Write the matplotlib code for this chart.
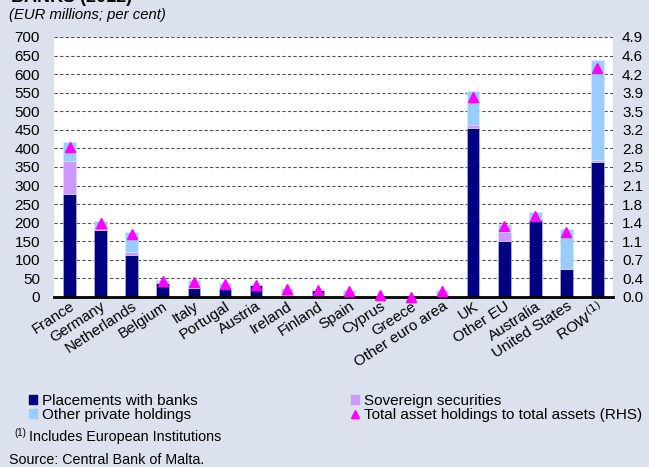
import numpy as np
import matplotlib.pyplot as plt
from matplotlib.lines import Line2D
from matplotlib.patches import Patch

plt.rcParams['font.family'] = ['Liberation Sans', 'DejaVu Sans']

# ---------------------------------
# DADOS (EUR milhões; por cento)
# ---------------------------------
categorias = ['France', 'Germany', 'Netherlands', 'Belgium', 'Italy', 'Portugal',
              'Austria', 'Ireland', 'Finland', 'Spain', 'Cyprus', 'Greece',
              'Other euro area', 'UK', 'Other EU', 'Australia', 'United States',
              'ROW$^{(1)}$']

bancos = [278, 181, 112, 38, 23, 21, 32, 4, 20, 6, 0, 0, 1, 455, 151, 208, 76, 363]
soberanos = [88, 11, 9, 2, 12, 6, 0, 7, 0, 1, 1, 0, 4, 7, 23, 0, 0, 7]
outros_privados = [50, 13, 55, 5, 10, 12, 4, 13, 1, 11, 2, 0, 13, 92, 23, 20, 107, 268]
rhs = [2.83, 1.39, 1.18, 0.30, 0.29, 0.25, 0.23, 0.15, 0.13, 0.11, 0.03, 0.00,
       0.11, 3.77, 1.33, 1.53, 1.23, 4.31]

rotulos_rhs = ['0.0', '0.4', '0.7', '1.1', '1.4', '1.8', '2.1', '2.5', '2.8',
               '3.2', '3.5', '3.9', '4.2', '4.6', '4.9']

cor_bancos = '#000080'
cor_soberanos = '#CC99FF'
cor_outros = '#99CCFF'
cor_rhs = '#FF00FF'
fundo = '#DBE1ED'

# ---------------------------------
# GRÁFICO
# ---------------------------------
fig = plt.figure(figsize=(6.49, 4.67), dpi=100, facecolor=fundo)
ax = fig.add_axes([54/649, 1 - 297/467, (613 - 54)/649, (297 - 37)/467])
ax.set_facecolor('white')

x = np.arange(len(categorias))
b1 = np.array(bancos)
b2 = np.array(soberanos)
b3 = np.array(outros_privados)

ax.bar(x, b1, width=0.4, color=cor_bancos, edgecolor='#B8C4E8', linewidth=0.4, zorder=3)
ax.bar(x, b2, width=0.4, bottom=b1, color=cor_soberanos, edgecolor='#E0D8FA', linewidth=0.4, zorder=3)
ax.bar(x, b3, width=0.4, bottom=b1 + b2, color=cor_outros, edgecolor='#E0ECFA', linewidth=0.4, zorder=3)

ax.set_xlim(-0.5, len(categorias) - 0.5)
ax.set_ylim(0, 700)
ax.set_yticks(np.arange(0, 701, 50))
ax.yaxis.grid(True, linestyle=(0, (3, 2)), color='#555555', linewidth=0.8)
ax.set_axisbelow(True)

for s in ['top', 'left', 'right']:
    ax.spines[s].set_visible(False)
ax.spines['bottom'].set_linewidth(2)
ax.spines['bottom'].set_zorder(5)

ax.set_xticks(x)
ax.set_xticklabels(categorias, rotation=33, ha='right', rotation_mode='anchor', fontsize=11)
ax.tick_params(axis='x', length=0, pad=1.5)
ax.tick_params(axis='y', length=0, pad=10, labelsize=11)

# eixo da direita
ax2 = ax.twinx()
ax2.set_ylim(0, 4.9)
ax2.set_yticks(np.arange(15) * 0.35)
ax2.set_yticklabels(rotulos_rhs)
ax2.tick_params(axis='y', length=0, pad=6.5, labelsize=11)
for s in ['top', 'left', 'right', 'bottom']:
    ax2.spines[s].set_visible(False)
ax2.plot(x, rhs, linestyle='none', marker='^', color=cor_rhs, markersize=6.5, zorder=6,
         clip_on=False)

# títulos
fig.text(11/649, 1 - 2/467, 'BANKS (2012)', fontsize=13, fontweight='bold',
         ha='left', va='baseline')
fig.text(9/649, 1 - 15/467, '(EUR millions; per cent)', fontsize=10.7, style='italic',
         ha='left', va='center')

# legenda
handles = [
    Patch(color=cor_bancos, label='Placements with banks'),
    Patch(color=cor_outros, label='Other private holdings'),
    Patch(color=cor_soberanos, label='Sovereign securities'),
    Line2D([], [], linestyle='none', marker='^', color=cor_rhs, markersize=6,
           label='Total asset holdings to total assets (RHS)'),
]
fig.legend(handles=handles, loc='upper left', bbox_to_anchor=(21/649, 1 - 386/467),
           ncol=2, frameon=False, fontsize=11, handlelength=0.55, handleheight=0.55,
           handletextpad=0.3, columnspacing=10.05, labelspacing=0.0, borderpad=0)

fig.text(14/649, 1 - 433/467, '(1)', fontsize=7, ha='left', va='center')
fig.text(29/649, 1 - 437/467, 'Includes European Institutions', fontsize=10.3,
         ha='left', va='center')
fig.text(9/649, 1 - 460/467, 'Source: Central Bank of Malta.', fontsize=10.3,
         ha='left', va='center')

plt.savefig('out.png', dpi=100, facecolor=fundo)
